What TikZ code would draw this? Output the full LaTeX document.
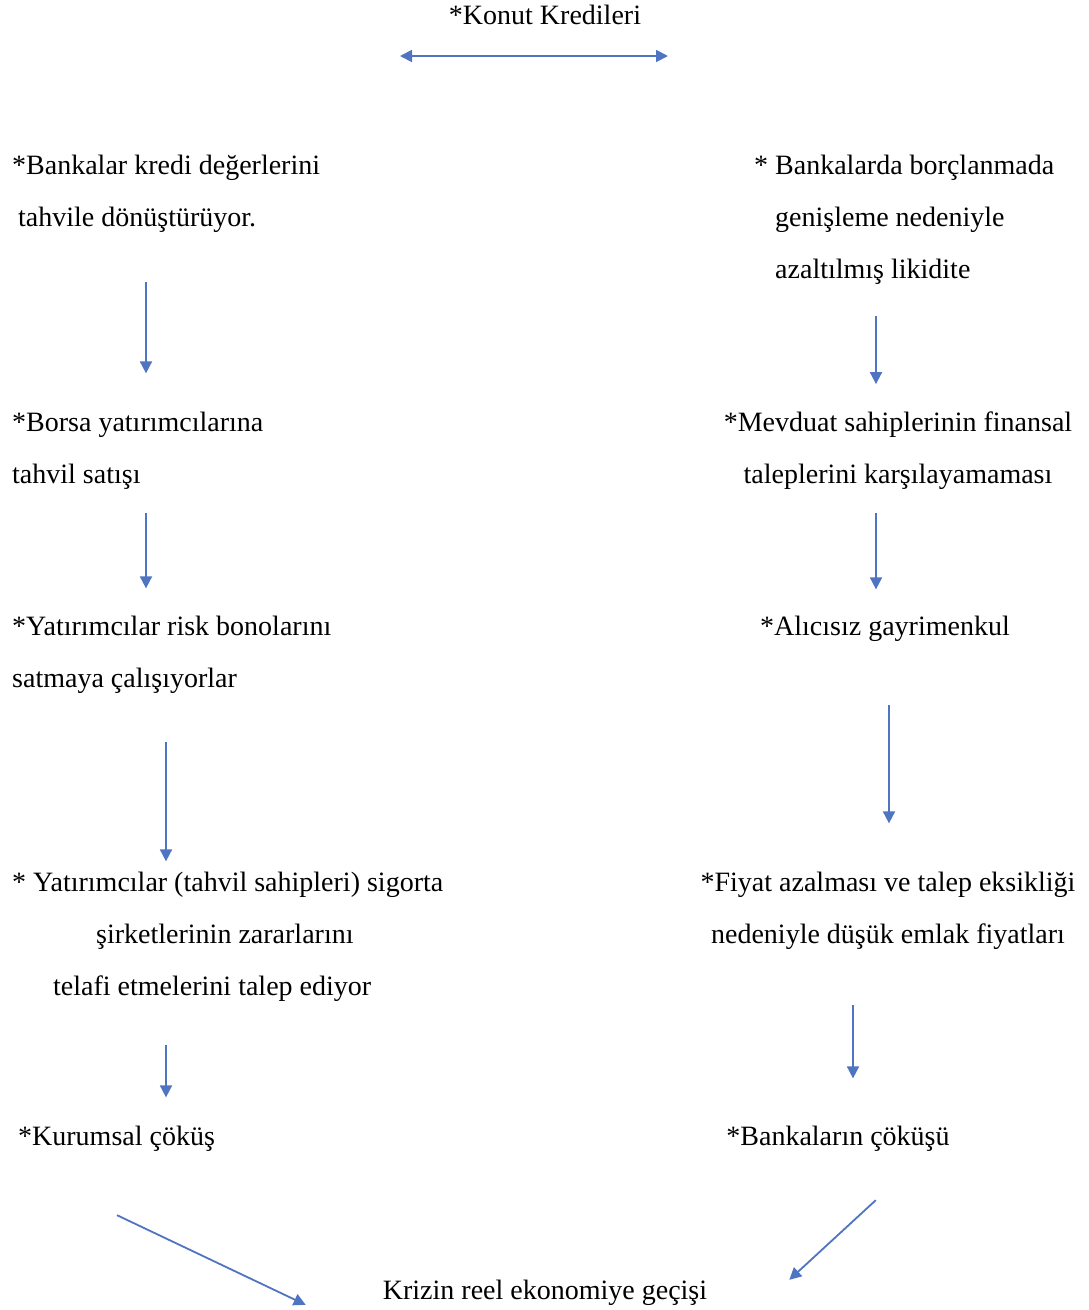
\documentclass[tikz,border=0pt]{standalone}
\usepackage{fontspec}
\setmainfont{Liberation Serif}
\usetikzlibrary{positioning, arrows.meta}
\definecolor{flowblue}{HTML}{4F74C2}
\tikzset{
	x=1pt, y=-1pt, % one unit is one pixel of the page, y runs downwards
	every node/.style={inner sep=0pt, font=\fontsize{28}{52}\selectfont}, % plain text, no frame
	step text/.style={anchor=base west, align=left}, % left aligned blocks
	flow/.style={draw=flowblue, line width=1.8pt, -{Triangle[width=12pt,length=12pt]}}, % the blue arrows
	both flow/.style={flow, {Triangle[width=12pt,length=12pt]}-{Triangle[width=12pt,length=12pt]}},
}
\begin{document}
\begin{tikzpicture}
			\useasboundingbox (0,0) rectangle (1089,1310);
			\node[anchor=base] (top) at (545,24) {*Konut Kredileri};

			% left chain (multi-line blocks sit on their last line)
			\node[step text] (l1) at (12,226) {*Bankalar kredi değerlerini\\\hspace*{6pt}tahvile dönüştürüyor.};
			\node[step text] (l2) at (12,483) {*Borsa yatırımcılarına\\tahvil satışı};
			\node[step text] (l3) at (12,687) {*Yatırımcılar risk bonolarını\\satmaya çalışıyorlar};
			\node[step text] (l4) at (12,995) {* Yatırımcılar (tahvil sahipleri) sigorta\\\hspace*{84pt}şirketlerinin zararlarını\\\hspace*{41pt}telafi etmelerini talep ediyor};
			\node[step text] (l5) at (18,1145) {*Kurumsal çöküş};

			% right chain
			\node[step text] (r1) at (775,278) {\llap{*\ }Bankalarda borçlanmada\\genişleme nedeniyle\\azaltılmış likidite};
			\node[anchor=base, align=center] (r2) at (898,483) {*Mevduat sahiplerinin finansal\\taleplerini karşılayamaması};
			\node[anchor=base] (r3) at (885,635) {*Alıcısız gayrimenkul};
			\node[anchor=base, align=center] (r4) at (888,943) {*Fiyat azalması ve talep eksikliği\\nedeniyle düşük emlak fiyatları};
			\node[anchor=base] (r5) at (838,1145) {*Bankaların çöküşü};

			\node[anchor=base] (fin) at (545,1299) {Krizin reel ekonomiye geçişi};

			\draw[both flow] ([shift={(-145,32)}]top.base) -- ([shift={(123,32)}]top.base);

			\draw[flow, shorten <=50pt, shorten >=38pt] (l1.south -| 146,0) -- (l2.north -| 146,0);
			\draw[flow, shorten <=24pt, shorten >=27pt] (l2.south -| 146,0) -- (l3.north -| 146,0);
			\draw[flow, shorten <=49pt, shorten >=10pt] (l3.south -| 166,0) -- (l4.north -| 166,0);
			\draw[flow, shorten <=44pt, shorten >=28pt] (l4.south -| 166,0) -- (l5.north -| 166,0);

			\draw[flow, shorten <=32pt, shorten >=27pt] (r1.south -| 876,0) -- (r2.north -| 876,0);
			\draw[flow, shorten <=24pt, shorten >=26pt] (r2.south -| 876,0) -- (r3.north -| 876,0);
			\draw[flow, shorten <=64pt, shorten >=48pt] (r3.south -| 889,0) -- (r4.north -| 889,0);
			\draw[flow, shorten <=56pt, shorten >=47pt] (r4.south -| 853,0) -- (r5.north -| 853,0);

			\draw[flow] ([shift={(99,64)}]l5.south west) -- ([shift={(-77,12.5)}]fin.west);
			\draw[flow] ([shift={(-74,49)}]r5.south east) -- ([shift={(82,-12.5)}]fin.east);
		\end{tikzpicture}
\end{document}
